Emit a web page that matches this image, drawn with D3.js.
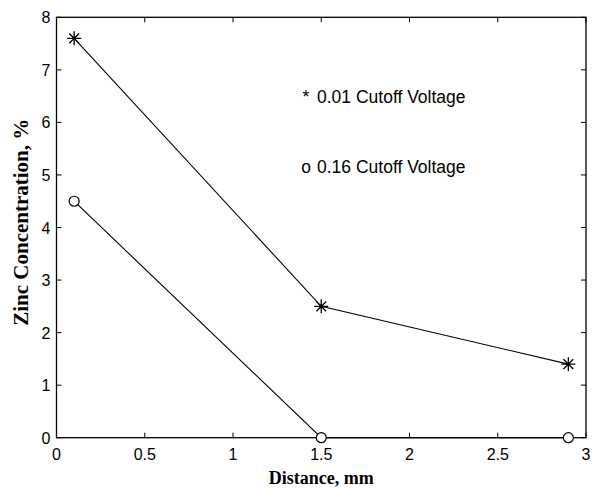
<!DOCTYPE html>
<html>
<head>
<meta charset="utf-8">
<script src="https://cdn.jsdelivr.net/npm/d3@7"></script>
<style>
  body { margin: 0; background: #fff; }
  svg { display: block; }
  .tick-label { font-family: "Liberation Sans", Arial, sans-serif; font-size: 16px; fill: #000; }
  .axis-title { font-family: "Liberation Serif", "Times New Roman", serif; font-weight: bold; font-size: 18px; fill: #000; }
  .note { font-family: "Liberation Sans", Arial, sans-serif; font-size: 17.5px; fill: #000; }
</style>
</head>
<body>
<svg id="chart"></svg>
<script>
// data
const distance = [0.1, 1.5, 2.9];
const cutoff001 = [7.6, 2.5, 1.4];
const cutoff016 = [4.5, 0, 0];
const xTicks = [0, 0.5, 1, 1.5, 2, 2.5, 3];
const yTicks = [0, 1, 2, 3, 4, 5, 6, 7, 8];
const noteMarks = ["*", "o"];
const noteLabels = ["0.01 Cutoff Voltage", "0.16 Cutoff Voltage"];
const noteY = [6.36, 5.04];

const width = 594, height = 490;
const margin = { left: 56.5, right: 8, top: 17.3, bottom: 52.3 };

const svg = d3.select("#chart")
    .attr("width", width)
    .attr("height", height);

const x = d3.scaleLinear().domain([0, 3]).range([margin.left, width - margin.right]);
const y = d3.scaleLinear().domain([0, 8]).range([height - margin.bottom, margin.top]);

const tickLen = 5;

// frame
svg.append("rect")
    .attr("x", x(0)).attr("y", y(8))
    .attr("width", x(3) - x(0)).attr("height", y(0) - y(8))
    .attr("fill", "none").attr("stroke", "#000").attr("stroke-width", 1.3);

// ticks point inward, on all four sides
const g = svg.append("g").attr("stroke", "#000").attr("stroke-width", 1);
xTicks.forEach(t => {
    g.append("line").attr("x1", x(t)).attr("x2", x(t)).attr("y1", y(0)).attr("y2", y(0) - tickLen);
    g.append("line").attr("x1", x(t)).attr("x2", x(t)).attr("y1", y(8)).attr("y2", y(8) + tickLen);
});
yTicks.forEach(t => {
    g.append("line").attr("x1", x(0)).attr("x2", x(0) + tickLen).attr("y1", y(t)).attr("y2", y(t));
    g.append("line").attr("x1", x(3)).attr("x2", x(3) - tickLen).attr("y1", y(t)).attr("y2", y(t));
});

svg.selectAll(".xl")
    .data(xTicks)
    .join("text")
    .attr("class", "tick-label")
    .attr("x", d => x(d))
    .attr("y", y(0) + 22)
    .attr("text-anchor", "middle")
    .text(d => d);

svg.selectAll(".yl")
    .data(yTicks)
    .join("text")
    .attr("class", "tick-label")
    .attr("x", x(0) - 6)
    .attr("y", d => y(d) + 6)
    .attr("text-anchor", "end")
    .text(d => d);

// titles
svg.append("text")
    .attr("class", "axis-title")
    .attr("x", (x(0) + x(3)) / 2)
    .attr("y", height - 6)
    .attr("text-anchor", "middle")
    .text("Distance, mm");

svg.append("text")
    .attr("class", "axis-title")
    .style("font-size", "21px")
    .attr("transform", `translate(28,${y(4.1)}) rotate(-90)`)
    .attr("text-anchor", "middle")
    .text("Zinc Concentration, %");

// lines
const line = d3.line().x(d => x(d[0])).y(d => y(d[1]));

const s1 = distance.map((d, i) => [d, cutoff001[i]]);
const s2 = distance.map((d, i) => [d, cutoff016[i]]);

svg.append("path").attr("d", line(s1)).attr("fill", "none").attr("stroke", "#000").attr("stroke-width", 1.1);
svg.append("path").attr("d", line(s2)).attr("fill", "none").attr("stroke", "#000").attr("stroke-width", 1.1);

// star markers
const r = 7;
svg.selectAll(".star")
    .data(s1)
    .join("path")
    .attr("class", "star")
    .attr("transform", d => `translate(${x(d[0])},${y(d[1])})`)
    .attr("d", `M${-r},0H${r}M0,${-r}V${r}M${-r * 0.7},${-r * 0.7}L${r * 0.7},${r * 0.7}M${-r * 0.7},${r * 0.7}L${r * 0.7},${-r * 0.7}`)
    .attr("stroke", "#000")
    .attr("stroke-width", 1.3);

// circle markers
svg.selectAll(".circ")
    .data(s2)
    .join("circle")
    .attr("cx", d => x(d[0]))
    .attr("cy", d => y(d[1]))
    .attr("r", 5)
    .attr("fill", "#fff")
    .attr("stroke", "#000")
    .attr("stroke-width", 1.2);

// text notes inside the plot
noteLabels.forEach((lab, i) => {
    svg.append("text")
        .attr("class", "note")
        .attr("x", 306)
        .attr("y", y(noteY[i]))
        .attr("text-anchor", "middle")
        .text(noteMarks[i]);
    svg.append("text")
        .attr("class", "note")
        .attr("x", 317)
        .attr("y", y(noteY[i]))
        .text(lab);
});
</script>
</body>
</html>
